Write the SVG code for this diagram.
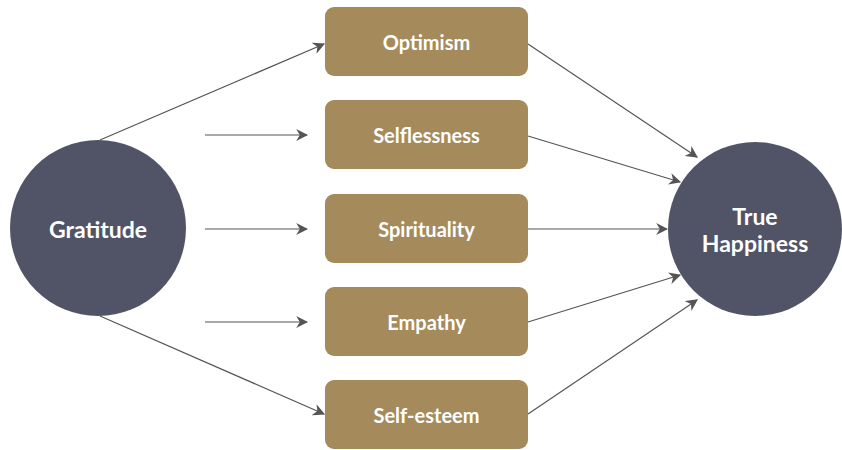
<svg xmlns="http://www.w3.org/2000/svg" width="842" height="450" viewBox="0 0 842 450">
  <style>
    .hub { fill: #515466; }
    .box { fill: #A58A5C; }
    .lbl { font-family: Lato, "Open Sans", sans-serif; font-weight: 700; fill: #ffffff; text-anchor: middle; dominant-baseline: central; }
    .box-lbl { font-size: 20px; }
    .hub-lbl { font-size: 23px; }
    .edge { stroke: #555555; stroke-width: 1.2; fill: none; marker-end: url(#head); }
  </style>
  <defs>
    <marker id="head" viewBox="0 0 10 10" refX="9" refY="5" markerWidth="12" markerHeight="12" markerUnits="userSpaceOnUse" orient="auto">
      <path d="M0,0 L10,5 L0,10 L3,5 Z" fill="#555555"/>
    </marker>
  </defs>
  <rect width="842" height="450" fill="#ffffff"/>

  <g id="connectors">
    <line class="edge" x1="100" y1="140" x2="324" y2="44"/>
    <line class="edge" x1="205" y1="135" x2="307" y2="135"/>
    <line class="edge" x1="205" y1="229" x2="307" y2="229"/>
    <line class="edge" x1="205" y1="322" x2="307" y2="322"/>
    <line class="edge" x1="100" y1="316" x2="324" y2="414"/>
    <line class="edge" x1="528" y1="44" x2="697" y2="157"/>
    <line class="edge" x1="528" y1="136" x2="680" y2="182"/>
    <line class="edge" x1="528" y1="229" x2="667" y2="229"/>
    <line class="edge" x1="528" y1="322" x2="680" y2="275"/>
    <line class="edge" x1="528" y1="414" x2="697" y2="300"/>
  </g>

  <g id="gratitude">
    <circle class="hub" cx="98" cy="228" r="88"/>
    <text class="lbl hub-lbl" x="98" y="229">Gratitude</text>
  </g>

  <g id="optimism">
    <rect class="box" x="325" y="7" width="203" height="69" rx="9"/>
    <text class="lbl box-lbl" x="426.5" y="42">Optimism</text>
  </g>
  <g id="selflessness">
    <rect class="box" x="325" y="100" width="203" height="69" rx="9"/>
    <text class="lbl box-lbl" x="426.5" y="135">Selflessness</text>
  </g>
  <g id="spirituality">
    <rect class="box" x="325" y="194" width="203" height="69" rx="9"/>
    <text class="lbl box-lbl" x="426.5" y="229">Spirituality</text>
  </g>
  <g id="empathy">
    <rect class="box" x="325" y="287" width="203" height="69" rx="9"/>
    <text class="lbl box-lbl" x="426.5" y="322">Empathy</text>
  </g>
  <g id="self-esteem">
    <rect class="box" x="325" y="380" width="203" height="69" rx="9"/>
    <text class="lbl box-lbl" x="426.5" y="415">Self-esteem</text>
  </g>

  <g id="true-happiness">
    <circle class="hub" cx="755" cy="229" r="87"/>
    <text class="lbl hub-lbl" x="755" y="216">True</text>
    <text class="lbl hub-lbl" x="755" y="243">Happiness</text>
  </g>
</svg>
